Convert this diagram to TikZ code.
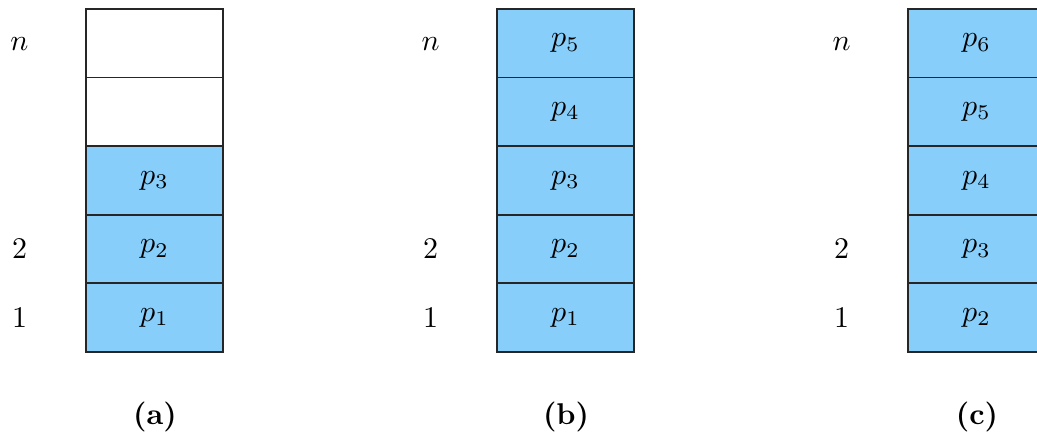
\documentclass[tikz,border=0pt]{standalone}
\definecolor{cellblue}{RGB}{135,206,250}
\tikzset{
  cell/.style={draw=black!85, line width=0.6pt, minimum width=45.667pt, minimum height=22.867pt, inner sep=0pt, outer sep=0pt},
  fullcell/.style={cell, fill=cellblue},
  lbl/.style={inner sep=0pt},
  captionlbl/.style={inner sep=0pt, anchor=base, font=\bfseries}
}
\begin{document}
\begin{tikzpicture}[x=0.33333pt, y=-0.33333pt]
\useasboundingbox (0,0) rectangle (1037,438);
\clip (0,0) rectangle (1037,438);
% stack (a)
\node[cell]     (a1) at (154.5,43.3)  {};
\node[cell]     (a2) at (154.5,111.9) {};
\node[fullcell] (a3) at (154.5,180.5) {$p_3$};
\node[fullcell] (a4) at (154.5,249.1) {$p_2$};
\node[fullcell] (a5) at (154.5,317.7) {$p_1$};
% stack (b)
\node[fullcell] (b1) at (565.5,43.3)  {$p_5$};
\node[fullcell] (b2) at (565.5,111.9) {$p_4$};
\node[fullcell] (b3) at (565.5,180.5) {$p_3$};
\node[fullcell] (b4) at (565.5,249.1) {$p_2$};
\node[fullcell] (b5) at (565.5,317.7) {$p_1$};
% stack (c)
\node[fullcell] (c1) at (976.5,43.3)  {$p_6$};
\node[fullcell] (c2) at (976.5,111.9) {$p_5$};
\node[fullcell] (c3) at (976.5,180.5) {$p_4$};
\node[fullcell] (c4) at (976.5,249.1) {$p_3$};
\node[fullcell] (c5) at (976.5,317.7) {$p_2$};
% row labels
\foreach \s/\x in {a/19.5, b/430.5, c/841.5}{
  \node[lbl, anchor=base] (\s n) at (\x,51) {$n$};
  \node[lbl] (\s two) at (\x,249.1) {$2$};
  \node[lbl] (\s one) at (\x,317.7) {$1$};
}
% captions
\node[captionlbl] (capa) at (155,425) {(a)};
\node[captionlbl] (capb) at (566,425) {(b)};
\node[captionlbl] (capc) at (977,425) {(c)};
\end{tikzpicture}
\end{document}
